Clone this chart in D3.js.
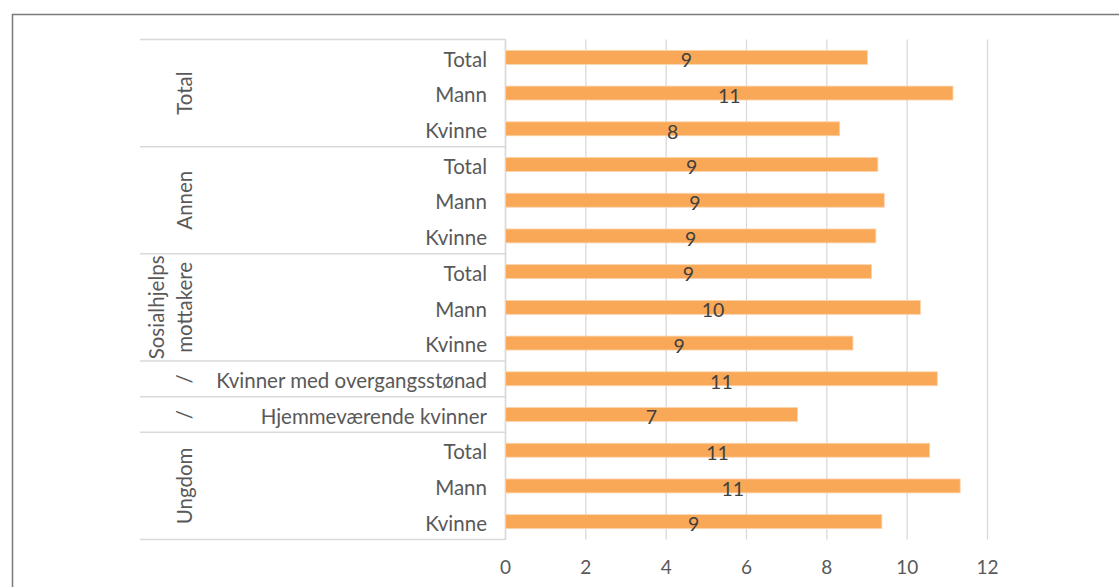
<!DOCTYPE html>
<html>
<head>
<meta charset="utf-8">
<script src="https://cdn.jsdelivr.net/npm/d3@7"></script>
<style>
  html, body { margin: 0; padding: 0; background: #fff; }
  svg { display: block; }
  text { font-family: Lato, "Open Sans", sans-serif; }
</style>
</head>
<body>
<script>
// ---- data ----
const rowLabels = ["Total", "Mann", "Kvinne", "Total", "Mann", "Kvinne", "Total", "Mann", "Kvinne",
  "Kvinner med overgangsstønad", "Hjemmeværende kvinner", "Total", "Mann", "Kvinne"];
const groupLabels = [["Total"], ["Annen"], ["Sosialhjelps", "mottakere"], ["/"], ["/"], ["Ungdom"]];
const groupSizes = [3, 3, 3, 1, 1, 3];
const values = [9.01, 11.14, 8.32, 9.27, 9.43, 9.22, 9.11, 10.33, 8.65, 10.75, 7.27, 10.56, 11.32, 9.37];
const xTicks = [0, 2, 4, 6, 8, 10, 12];

const W = 1119, H = 587;
const svg = d3.select("body").append("svg").attr("width", W).attr("height", H);

// outer border
svg.append("rect").attr("x", 12.5).attr("y", 14.5).attr("width", W).attr("height", H)
  .attr("fill", "none").attr("stroke", "#7a7a7a").attr("stroke-width", 1.5);

const plotTop = 39.5, plotBottom = 539.5;
const x = d3.scaleLinear().domain([0, 12]).range([505.5, 987.5]);
const y = d3.scaleBand().domain(d3.range(rowLabels.length)).range([plotTop, plotBottom])
  .paddingInner(0.61).paddingOuter(0.305);
const step = y.step();

// gridlines
svg.append("g").selectAll("line").data(xTicks).join("line")
  .attr("x1", d => x(d)).attr("x2", d => x(d))
  .attr("y1", plotTop).attr("y2", plotBottom)
  .attr("stroke", "#d9d9d9").attr("stroke-width", 1.3);

// x tick labels
svg.append("g").selectAll("text").data(xTicks).join("text")
  .attr("x", d => x(d)).attr("y", 567).attr("dy", "0.35em")
  .attr("text-anchor", "middle").attr("fill", "#595959").attr("font-size", 19)
  .text(d => d);

// group separator lines
const bounds = [0];
groupSizes.forEach(s => bounds.push(bounds[bounds.length - 1] + s));
svg.append("g").selectAll("line").data(bounds).join("line")
  .attr("x1", 140).attr("x2", x(0))
  .attr("y1", d => plotTop + d * step).attr("y2", d => plotTop + d * step)
  .attr("stroke", "#d9d9d9").attr("stroke-width", 1.5);
// category axis line
svg.append("line").attr("x1", x(0)).attr("x2", x(0)).attr("y1", plotTop).attr("y2", plotBottom)
  .attr("stroke", "#d9d9d9").attr("stroke-width", 1.5);

// bars
svg.append("g").selectAll("rect").data(values).join("rect")
  .attr("x", x(0)).attr("y", (d, i) => y(i))
  .attr("width", d => x(d) - x(0)).attr("height", y.bandwidth())
  .attr("fill", "#f9a857").attr("stroke", "#fcd3aa").attr("stroke-width", 0.8);

// value labels
svg.append("g").selectAll("text").data(values).join("text")
  .attr("x", d => (x(0) + x(d)) / 2).attr("y", (d, i) => y(i) + y.bandwidth() / 2 + 3)
  .attr("dy", "0.35em").attr("text-anchor", "middle")
  .attr("fill", "#404040").attr("font-size", 19.5)
  .text(d => Math.round(d));

// row labels
svg.append("g").selectAll("text").data(rowLabels).join("text")
  .attr("x", 487).attr("y", (d, i) => y(i) + y.bandwidth() / 2 + 2)
  .attr("dy", "0.35em").attr("text-anchor", "end")
  .attr("fill", "#595959").attr("font-size", 20.5)
  .text(d => d);

// group labels (rotated)
const gl = svg.append("g");
groupLabels.forEach((lines, gi) => {
  const cy = plotTop + (bounds[gi] + bounds[gi + 1]) / 2 * step;
  const n = lines.length;
  lines.forEach((t, li) => {
    const cx = 185 - (n - 1 - li) * 28;
    gl.append("text")
      .attr("transform", `translate(${cx},${cy}) rotate(-90)`)
      .attr("text-anchor", "middle").attr("dy", "0.35em")
      .attr("fill", "#595959").attr("font-size", 20.5)
      .text(t);
  });
});
</script>
</body>
</html>
